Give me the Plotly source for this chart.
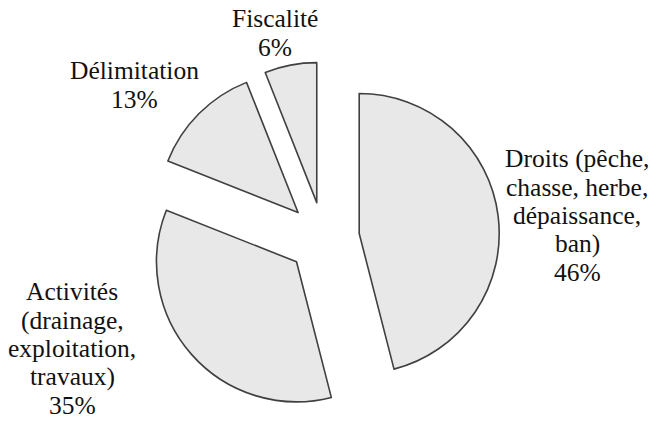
import plotly.graph_objects as go

# ---- data ----
labels = ["Droits (pêche, chasse, herbe, dépaissance, ban)",
          "Activités (drainage, exploitation, travaux)",
          "Délimitation",
          "Fiscalité"]
label_lines = [["Droits (pêche,", "chasse, herbe,", "dépaissance,", "ban)"],
               ["Activités", "(drainage,", "exploitation,", "travaux)"],
               ["Délimitation"],
               ["Fiscalité"]]
values = [46, 35, 13, 6]

# ---- layout constants ----
W, H = 650, 424
ML, MR, MT, MB = 0, 3, 62, 10
PW, PH = W - ML - MR, H - MT - MB
FONT = "Liberation Serif, Times New Roman, serif"
FS = 25.5

# label block centre x and first baseline y (page pixels), line step
label_pos = [(577, 167), (72, 300), (134.5, 79), (275, 27)]
step = 28.3

fig = go.Figure(go.Pie(
    labels=labels,
    values=values,
    sort=False,
    direction="clockwise",
    rotation=0,
    pull=[0.257] * len(values),
    textinfo="none",
    hoverinfo="skip",
    marker=dict(colors=["#e8e8e8"] * len(values),
                line=dict(color="#404040", width=1.6)),
    showlegend=False,
))

def px2paper(x, y):
    return (x - ML) / PW, 1 - (y - MT) / PH

annotations = []
for lines, v, (cx, by) in zip(label_lines, values, label_pos):
    all_lines = lines + [f"{v}%"]
    for i, ln in enumerate(all_lines):
        base = by + i * step
        xp, yp = px2paper(cx, base - 0.32 * FS)
        annotations.append(dict(
            x=xp, y=yp, xref="paper", yref="paper",
            text=ln, showarrow=False, xanchor="center", yanchor="middle",
            font=dict(family=FONT, size=FS, color="#111111"),
        ))

fig.update_layout(
    width=W, height=H,
    margin=dict(l=ML, r=MR, t=MT, b=MB),
    font=dict(family=FONT, size=FS, color="#111111"),
    paper_bgcolor="white",
    plot_bgcolor="white",
    annotations=annotations,
)

fig.write_html("out.html",
               config={"displayModeBar": False},
               post_script="document.body.style.margin='0';document.body.style.overflow='hidden';")
